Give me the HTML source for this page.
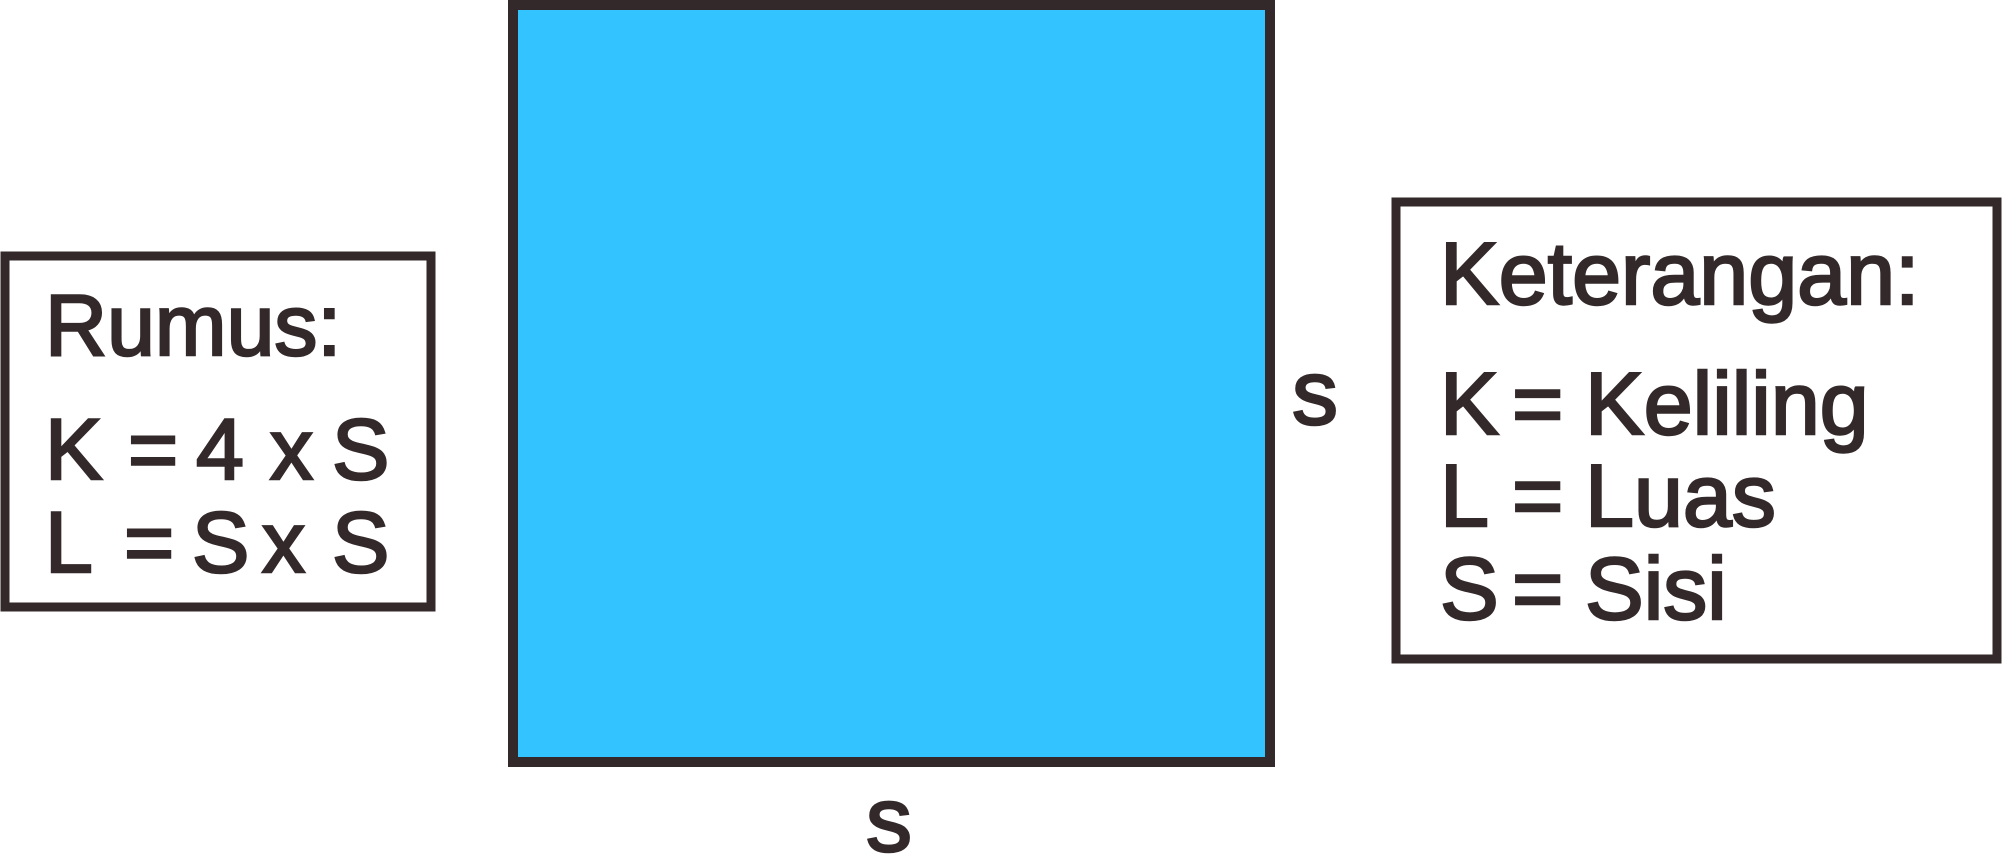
<!DOCTYPE html>
<html>
<head>
<meta charset="utf-8">
<style>
  html,body{margin:0;padding:0;background:#fff;}
  body{width:2002px;height:857px;overflow:hidden;}
  svg{display:block;}
  text{font-family:"Liberation Sans",sans-serif;fill:#33292a;stroke:#33292a;stroke-width:2.5px;}
</style>
</head>
<body>
<svg width="2002" height="857" viewBox="0 0 2002 857">
  <rect x="5" y="256" width="426" height="351" fill="#fff" stroke="#33292a" stroke-width="9"/>
  <rect x="513" y="5" width="757" height="757" fill="#33c3ff" stroke="#33292a" stroke-width="10"/>
  <rect x="1396" y="202" width="601" height="457" fill="#fff" stroke="#33292a" stroke-width="9"/>

  <g font-size="86">
    <text x="45" y="355">Rumus:</text>
    <text x="45" y="479">K</text>
    <text x="128" y="479">=</text>
    <text x="196" y="479">4</text>
    <text x="270" y="479">x</text>
    <text x="332" y="479">S</text>
    <text x="45" y="572">L</text>
    <text x="124" y="572">=</text>
    <text x="192" y="572">S</text>
    <text x="262" y="572">x</text>
    <text x="332" y="572">S</text>
  </g>

  <g font-size="88">
    <text x="1440" y="304">Keterangan:</text>
    <text x="1440" y="434">K</text>
    <text x="1512" y="434">=</text>
    <text x="1585" y="434">Keliling</text>
    <text x="1440" y="526">L</text>
    <text x="1512" y="526">=</text>
    <text x="1585" y="526">Luas</text>
    <text x="1440" y="619">S</text>
    <text x="1512" y="619">=</text>
    <text x="1585" y="619">Sisi</text>
  </g>

  <text x="1292" y="424" font-size="92">s</text>
  <text x="866" y="851" font-size="92">s</text>
</svg>
</body>
</html>
